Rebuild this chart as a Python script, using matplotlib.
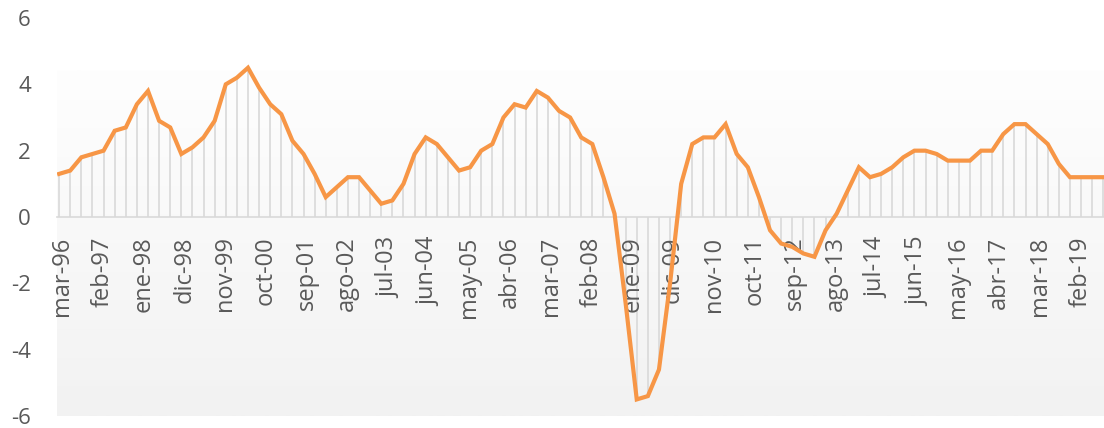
import numpy as np
import matplotlib
matplotlib.use("Agg")
import matplotlib.pyplot as plt

# Quarterly values, mar-96 .. sep-19
values = [
    1.3, 1.4, 1.8, 1.9, 2.0, 2.6, 2.7, 3.4, 3.8, 2.9, 2.7, 1.9, 2.1, 2.4, 2.9, 4.0,
    4.2, 4.5, 3.9, 3.4, 3.1, 2.3, 1.9, 1.3, 0.6, 0.9, 1.2, 1.2, 0.8, 0.4, 0.5, 1.0,
    1.9, 2.4, 2.2, 1.8, 1.4, 1.5, 2.0, 2.2, 3.0, 3.4, 3.3, 3.8, 3.6, 3.2, 3.0, 2.4,
    2.2, 1.2, 0.1, -2.6, -5.5, -5.4, -4.6, -2.0, 1.0, 2.2, 2.4, 2.4, 2.8, 1.9, 1.5, 0.6,
    -0.4, -0.8, -0.9, -1.1, -1.2, -0.4, 0.1, 0.8, 1.5, 1.2, 1.3, 1.5, 1.8, 2.0, 2.0, 1.9,
    1.7, 1.7, 1.7, 2.0, 2.0, 2.5, 2.8, 2.8, 2.5, 2.2, 1.6, 1.2, 1.2, 1.2, 1.2,
]
# month offset of each observation from mar-96 (quarterly)
months = [3 * i for i in range(len(values))]

tick_labels = ["mar-96", "feb-97", "ene-98", "dic-98", "nov-99", "oct-00", "sep-01",
               "ago-02", "jul-03", "jun-04", "may-05", "abr-06", "mar-07", "feb-08",
               "ene-09", "dic-09", "nov-10", "oct-11", "sep-12", "ago-13", "jul-14",
               "jun-15", "may-16", "abr-17", "mar-18", "feb-19"]
tick_months = [11 * i for i in range(len(tick_labels))]
y_ticks = [-6, -4, -2, 0, 2, 4, 6]

plt.rcParams['font.family'] = ['Open Sans', 'DejaVu Sans']

W, H = 1104, 428
fig = plt.figure(figsize=(W / 100, H / 100), dpi=100)
left_px, right_px, top_px, bot_px = 57.3, 1104, 18, 416
ax = fig.add_axes([left_px / W, (H - bot_px) / H, (right_px - left_px) / W, (bot_px - top_px) / H])
ax.set_xlim(-0.5, 282.2)
ax.set_ylim(-6, 6)

# gradient background of plot area
grad_top = (bot_px - 70) / (bot_px - top_px)
n = 256
g = np.linspace(0, 1, n)[:, None]
c_top = np.array([254, 254, 254]) / 255
c_bot = np.array([242, 242, 242]) / 255
img = c_top[None, None, :] * (1 - g[:, :, None]) + c_bot[None, None, :] * g[:, :, None]
ax.imshow(img, extent=[0, 1, 0, grad_top], transform=ax.transAxes, aspect='auto', zorder=0)

# drop lines
ax.vlines(months, 0, values, colors='#d9d9d9', linewidth=1.2, zorder=1)
ax.plot(months, values, color='#F79646', linewidth=3.0, solid_joinstyle='miter', zorder=3)

for s in ['top', 'right', 'left']:
    ax.spines[s].set_visible(False)
ax.spines['bottom'].set_position(('data', 0))
ax.spines['bottom'].set_color('#d9d9d9')
ax.spines['bottom'].set_linewidth(1.2)
ax.spines['bottom'].set_zorder(2)

ax.set_xticks([m + 0.8 for m in tick_months])
ax.set_xticklabels(tick_labels, rotation=90, fontsize=17, color='#595959')
ax.set_yticks(y_ticks)
ax.set_yticklabels([str(v) for v in y_ticks], fontsize=16, color='#595959')
ax.tick_params(axis='x', length=0, pad=14)
ax.tick_params(axis='y', length=0, pad=19)

fig.savefig('out.png', dpi=100)
